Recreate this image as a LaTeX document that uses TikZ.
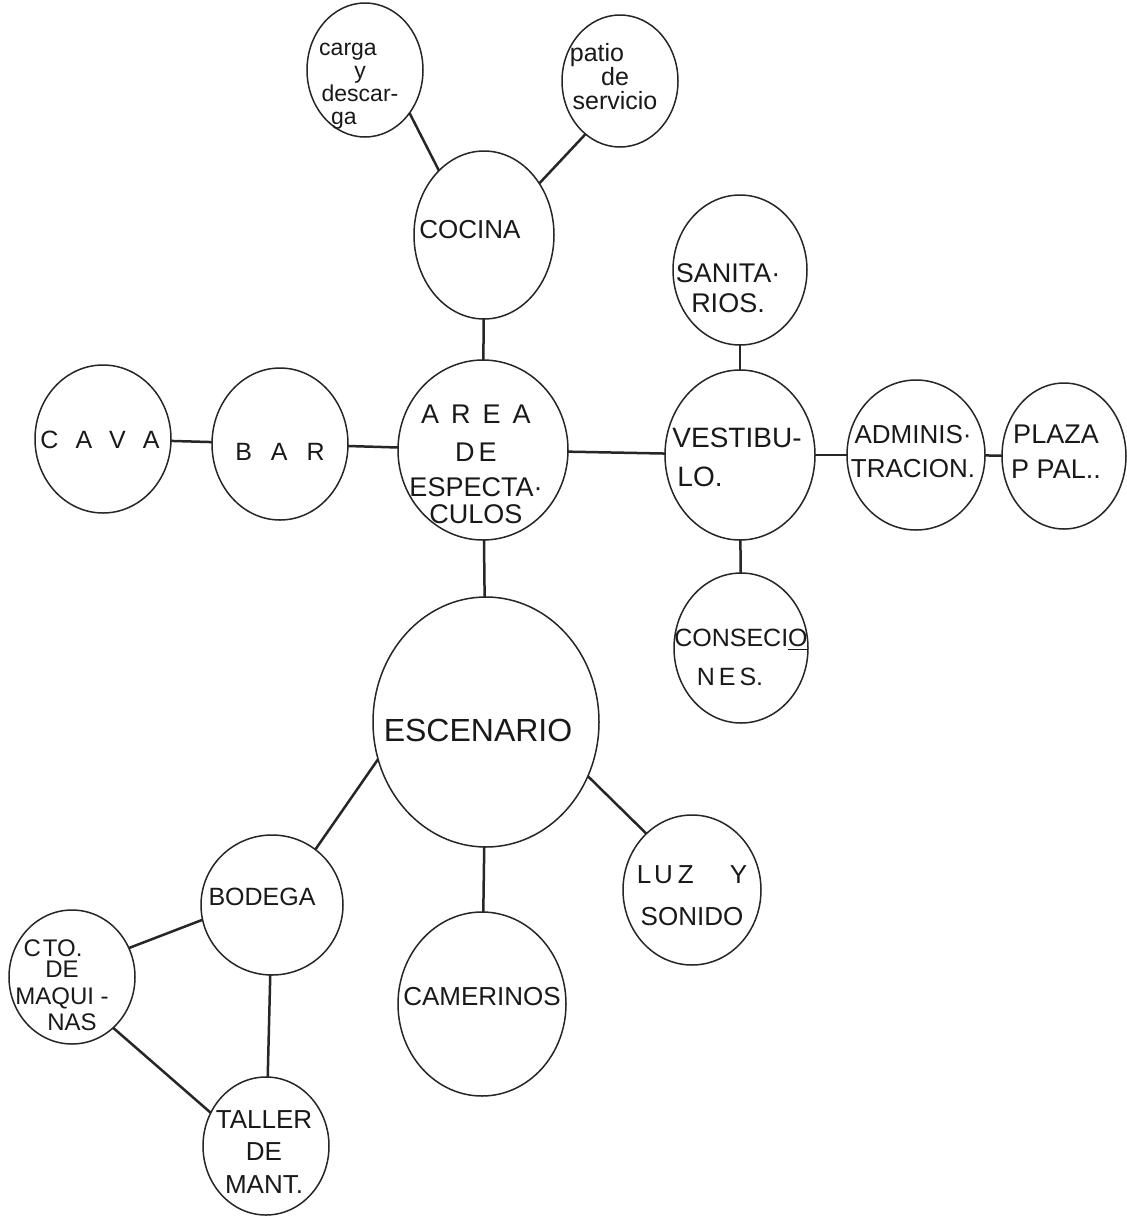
\documentclass[tikz,border=0pt]{standalone}
\usepackage{fontspec}
\setmainfont{Liberation Sans}
\usetikzlibrary{shapes.geometric}
\newcommand{\lfs}[2]{\fontsize{#1}{#2}\selectfont}
\begin{document}
\begin{tikzpicture}[x=0.5pt,y=-0.5pt,
  bubble/.style={draw=black!85, ellipse, inner sep=0pt, outer sep=0pt, line width=0.75pt},
  lbl/.style={inner sep=0pt, outer sep=0pt, align=center, text=black!90},
  link/.style={draw=black!85, line width=1.25pt}]
\useasboundingbox[fill=white] (0,0) rectangle (1127,1216);

% bubbles (1px = 0.5pt, so minimum width in pt = x radius in px)
\node[bubble, minimum width=58pt, minimum height=67pt] (carga) at (365,70) {};
\node[bubble, minimum width=58pt, minimum height=66pt] (patio) at (620,81) {};
\node[bubble, minimum width=70pt, minimum height=84pt] (cocina) at (484,235) {};
\node[bubble, minimum width=67pt, minimum height=75pt] (sanit) at (740,270) {};
\node[bubble, minimum width=85pt, minimum height=90pt] (area) at (483,450) {};
\node[bubble, minimum width=68pt, minimum height=74pt] (cava) at (103,439) {};
\node[bubble, minimum width=68pt, minimum height=76pt] (bar) at (280,444) {};
\node[bubble, minimum width=75pt, minimum height=85pt] (vest) at (740,455) {};
\node[bubble, minimum width=69pt, minimum height=75pt] (admin) at (916,455) {};
\node[bubble, minimum width=62pt, minimum height=73pt] (plaza) at (1064,456) {};
\node[bubble, minimum width=67pt, minimum height=75pt] (cons) at (741,648) {};
\node[bubble, minimum width=113pt, minimum height=125pt] (esc) at (486,722) {};
\node[bubble, minimum width=71pt, minimum height=70pt] (bodega) at (272,905) {};
\node[bubble, minimum width=69pt, minimum height=75pt] (luz) at (692,890) {};
\node[bubble, minimum width=84pt, minimum height=92pt] (cam) at (482,1004) {};
\node[bubble, minimum width=63pt, minimum height=67pt] (cto) at (72,977) {};
\node[bubble, minimum width=63pt, minimum height=69pt] (taller) at (266,1146) {};

% labels
\node[lbl, font=\lfs{11.5pt}{11.5pt}] (carga-t) at (360,86) {carga\hspace*{12pt}\\y\\descar-\\ga\hspace*{16pt}};
\node[lbl, font=\lfs{12.5pt}{12pt}] (patio-t) at (615,77) {patio\hspace*{18pt}\\de\hspace*{18pt}\\servicio};
\node[lbl, font=\lfs{13pt}{15pt}] (cocina-t) at (470,230) {COCINA};
\node[lbl, font=\lfs{13.5pt}{15pt}] (sanit-t) at (728,288) {SANITA·\\RIOS.};
\node[lbl, font=\lfs{13.5pt}{17.5pt}] (area-t) at (476,464) {A\hspace{6pt}R\hspace{6pt}E\hspace{6pt}A\\[1.5pt]D\hspace{2pt}E\\ESPECTA·\\[-4pt]CULOS};
\node[lbl, font=\lfs{12.5pt}{15pt}] (cava-t) at (100,440) {C\hspace{8.5pt}A\hspace{8.5pt}V\hspace{8.5pt}A};
\node[lbl, font=\lfs{12.5pt}{15pt}] (bar-t) at (280,452) {B\hspace{9.5pt}A\hspace{9.5pt}R};
\node[lbl, font=\lfs{14pt}{19.5pt}] (vest-t) at (737,457) {VESTIBU-\\LO.\hspace*{37pt}};
\node[lbl, font=\lfs{13pt}{17pt}] (admin-t) at (913,452) {ADMINIS·\\TRACION.};
\node[lbl, font=\lfs{13.5pt}{17.5pt}] (plaza-t) at (1056,452) {PLAZA\\P PAL..};
\node[lbl, font=\lfs{12.5pt}{19.5pt}] (cons-t) at (741,657) {CONSECI\underline{O}\\N\hspace{2pt}E\hspace{2pt}S.\hspace*{11pt}};
\node[lbl, font=\lfs{16pt}{19pt}] (esc-t) at (478,730) {ESCENARIO};
\node[lbl, font=\lfs{12.5pt}{15pt}] (bodega-t) at (262,897) {BODEGA};
\node[lbl, font=\lfs{13pt}{21pt}] (luz-t) at (692,896) {L\hspace{1.5pt}U\hspace{2.5pt}Z\hspace{18pt}Y\\SONIDO};
\node[lbl, font=\lfs{13pt}{15pt}] (cam-t) at (482,997) {CAMERINOS};
\node[lbl, font=\lfs{12pt}{13pt}] (cto-t) at (62,985) {C\hspace{1pt}TO.\hspace*{9pt}\\[-2.5pt]DE\hspace*{5pt}\\[0.5pt]MAQUI -\\\hspace*{10pt}NAS};
\node[lbl, font=\lfs{13pt}{16.25pt}] (taller-t) at (264,1152) {TALLER\\DE\\MANT.};

% connectors
\draw[link] (carga.-44) -- (cocina.125);
\draw[link] (patio.237) -- (cocina.43);
\draw[link] (cocina) -- (area);
\draw[link] (cava) -- (bar);
\draw[link] (bar) -- (area);
\draw[link] (area) -- (vest);
\draw[link] (vest) -- (admin);
\draw[link] (admin) -- (plaza);
\draw[link] (sanit) -- (vest);
\draw[link] (vest) -- (cons);
\draw[link] (area) -- (esc);
\draw[link] (esc.-28) -- (luz.129);
\draw[link] (esc.199) -- (bodega.52);
\draw[link] (esc) -- (cam);
\draw[link] (bodega.192) -- (cto.27);
\draw[link] (cto.-51) -- (taller.149);
\draw[link] (bodega) -- (taller);
\end{tikzpicture}
\end{document}
